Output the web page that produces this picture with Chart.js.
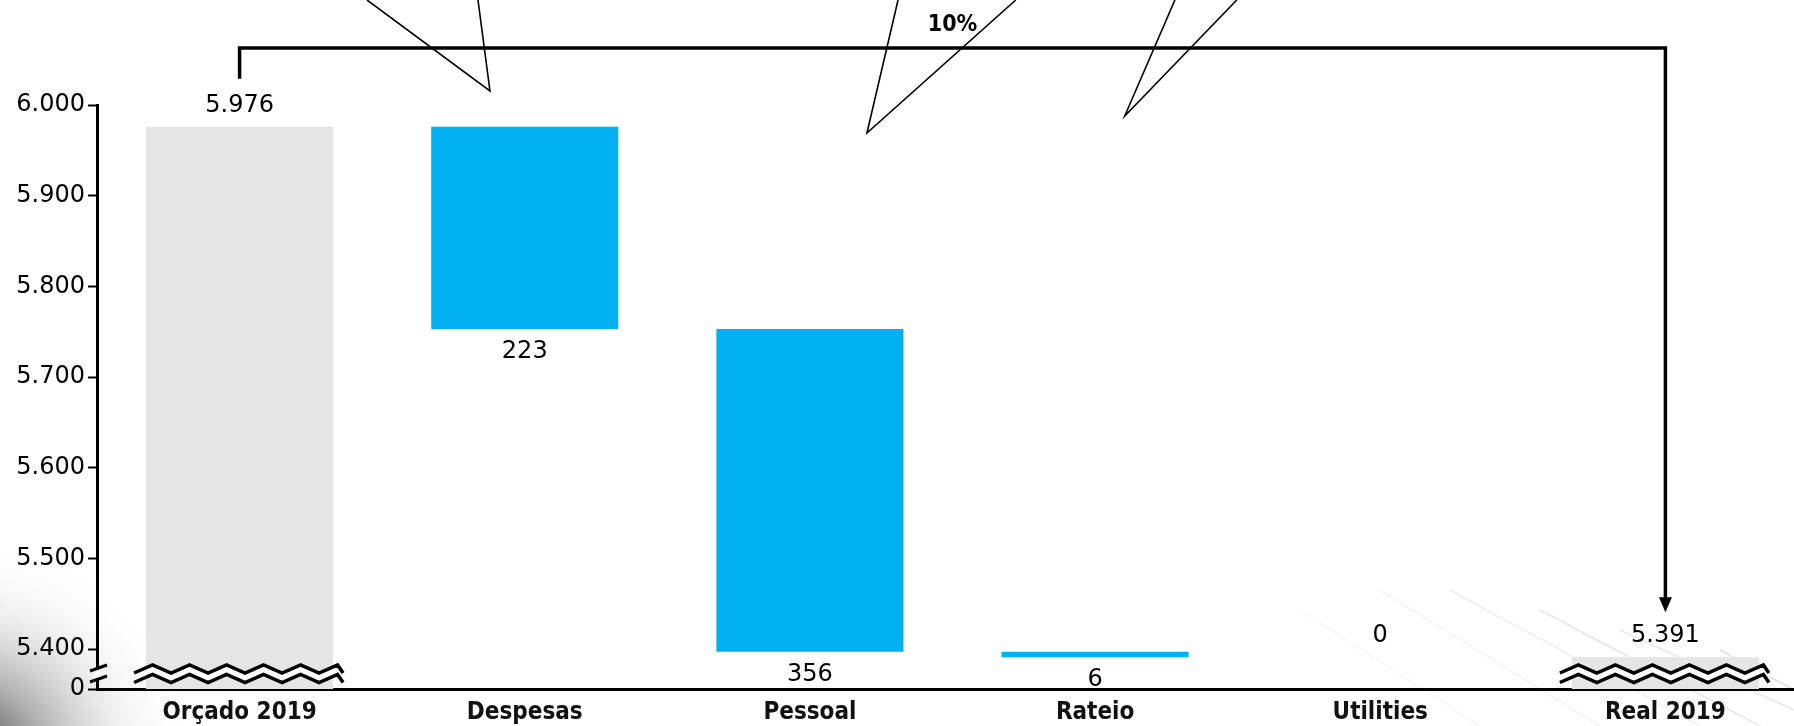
<!DOCTYPE html>
<html>
<head>
<meta charset="utf-8">
<script src="https://cdn.jsdelivr.net/npm/chart.js@4.4.1/dist/chart.umd.min.js"></script>
<style>
  html, body { margin: 0; padding: 0; background: #fff; overflow: hidden; }
  #wrap { width: 1808px; height: 726px; }
</style>
</head>
<body>
<div id="wrap"><canvas id="waterfall" width="1808" height="726"></canvas></div>
<script>
// data
const categories = ['Orçado 2019', 'Despesas', 'Pessoal', 'Rateio', 'Utilities', 'Real 2019'];
const budget = 5976;
const reductions = [223, 356, 6, 0];   // Despesas, Pessoal, Rateio, Utilities
const actual = 5391;
const yTickValues = [5400, 5500, 5600, 5700, 5800, 5900, 6000];
const axisFloor = 5356;                // bottom of the broken axis, shown as 0

// callout tails poking in from the top (x in category units, dy from plot top)
const calloutTails = [
  { from: [0.447, 0.836], tip: 0.878, dy: -14 },
  { from: [2.309, 2.722], tip: 2.200, dy: 28 },
  { from: [3.280, 3.497], tip: 3.104, dy: 11 }
];

const GREY = '#e5e5e5';
const BLUE = '#00b0f0';
const NUM_FONT = '24px "DejaVu Sans"';

const fmt = v => String(v).replace(/\B(?=(\d{3})+(?!\d))/g, '.');

// waterfall bars
let running = budget;
const barData = [budget];
const barLabels = [fmt(budget)];
reductions.forEach(r => {
  barData.push([running - r, running]);
  barLabels.push(fmt(r));
  running -= r;
});
barData.push(actual);
barLabels.push(fmt(actual));
const isTotal = i => i === 0 || i === categories.length - 1;

function zigzagPts(x0, x1, yMid, amp, period) {
  const pts = [];
  let up = false;
  for (let x = x0; x < x1 + period / 2; x += period / 2) {
    pts.push([Math.min(x, x1), up ? yMid - amp : yMid + amp]);
    up = !up;
  }
  return pts;
}

const backdrop = {
  id: 'backdrop',
  beforeDraw(chart) {
    const ctx = chart.ctx;
    ctx.save();
    ctx.fillStyle = '#fff';
    ctx.fillRect(0, 0, chart.width, chart.height);
    const g = ctx.createRadialGradient(-30, 760, 0, -30, 760, 230);
    g.addColorStop(0, 'rgba(40,40,40,0.9)');
    g.addColorStop(0.35, 'rgba(90,90,90,0.45)');
    g.addColorStop(0.7, 'rgba(180,180,180,0.15)');
    g.addColorStop(1, 'rgba(255,255,255,0)');
    ctx.fillStyle = g;
    ctx.fillRect(0, 480, 300, 246);
    // faint streaks bottom right
    ctx.lineWidth = 2;
    [[1380, 590, 1600, 726, 0.04], [1450, 590, 1700, 726, 0.05], [1540, 610, 1760, 726, 0.08],
     [1620, 630, 1794, 710, 0.07], [1300, 610, 1480, 726, 0.03], [1720, 650, 1794, 690, 0.1]]
      .forEach(([a, b, c, d, o]) => {
        ctx.strokeStyle = `rgba(0,0,0,${o})`;
        ctx.beginPath(); ctx.moveTo(a, b); ctx.lineTo(c, d); ctx.stroke();
      });
    ctx.restore();
  }
};

const barDecor = {
  id: 'barDecor',
  afterDatasetsDraw(chart) {
    const ctx = chart.ctx;
    const y = chart.scales.y;
    const meta = chart.getDatasetMeta(0);
    const mid = y.bottom - 15.5;
    ctx.save();
    meta.data.forEach((el, i) => {
      if (!isTotal(i)) return;
      const x0 = el.x - el.width / 2 - 12, x1 = el.x + el.width / 2 + 10;
      const top = zigzagPts(x0, x1, mid - 4.5, 4, 37);
      const bot = zigzagPts(x0, x1, mid + 5, 4, 37);
      ctx.fillStyle = '#fff';
      ctx.beginPath();
      top.forEach((p, k) => k ? ctx.lineTo(p[0], p[1]) : ctx.moveTo(p[0], p[1]));
      bot.slice().reverse().forEach(p => ctx.lineTo(p[0], p[1]));
      ctx.closePath();
      ctx.fill();
      ctx.strokeStyle = '#000';
      ctx.lineWidth = 3.5;
      [top, bot].forEach(line => {
        ctx.beginPath();
        line.forEach((p, k) => k ? ctx.lineTo(p[0], p[1]) : ctx.moveTo(p[0], p[1]));
        ctx.stroke();
      });
    });
    // value labels
    ctx.font = NUM_FONT;
    ctx.fillStyle = '#000';
    ctx.textAlign = 'center';
    ctx.textBaseline = 'middle';
    meta.data.forEach((el, i) => {
      const hi = Math.min(el.y, el.base), lo = Math.max(el.y, el.base);
      const above = isTotal(i) || reductions[i - 1] === 0;
      ctx.fillText(barLabels[i], el.x, above ? hi - 21 : lo + 23);
    });
    ctx.restore();
  }
};

const overlay = {
  id: 'overlay',
  afterDraw(chart) {
    const ctx = chart.ctx;
    const x = chart.scales.x, y = chart.scales.y;
    const area = chart.chartArea;
    const meta = chart.getDatasetMeta(0);
    ctx.save();

    // axis break
    const ax = area.left, mid = area.bottom - 15.5;
    ctx.fillStyle = '#fff';
    ctx.fillRect(ax - 3, mid - 4, 6, 9);
    ctx.strokeStyle = '#000';
    ctx.lineWidth = 3;
    [mid - 5.5, mid + 5.5].forEach(m => {
      ctx.beginPath(); ctx.moveTo(ax - 7, m + 3); ctx.lineTo(ax + 10, m - 3); ctx.stroke();
    });

    // bracket with arrow
    const xl = meta.data[0].x, xr = meta.data[meta.data.length - 1].x;
    const yTop = area.top - 57;
    const tipY = y.getPixelForValue(actual) - 45;
    ctx.lineWidth = 3.5;
    ctx.lineJoin = 'miter';
    ctx.beginPath();
    ctx.moveTo(xl, y.getPixelForValue(budget) - 48);
    ctx.lineTo(xl, yTop);
    ctx.lineTo(xr, yTop);
    ctx.lineTo(xr, tipY - 10);
    ctx.stroke();
    ctx.fillStyle = '#000';
    ctx.beginPath();
    ctx.moveTo(xr, tipY); ctx.lineTo(xr - 6.5, tipY - 15); ctx.lineTo(xr + 6.5, tipY - 15);
    ctx.closePath(); ctx.fill();

    const pct = Math.round((budget - actual) / budget * 100);
    ctx.font = 'bold 23px "DejaVu Sans Condensed", "DejaVu Sans"';
    ctx.textAlign = 'center';
    ctx.textBaseline = 'middle';
    ctx.fillText(pct + '%', (xl + xr) / 2, yTop - 23);

    // callout tails
    ctx.lineWidth = 1.6;
    calloutTails.forEach(t => {
      const tx = x.getPixelForValue(t.tip), ty = area.top + t.dy;
      ctx.beginPath();
      ctx.moveTo(x.getPixelForValue(t.from[0]), 0);
      ctx.lineTo(tx, ty);
      ctx.lineTo(x.getPixelForValue(t.from[1]), 0);
      ctx.stroke();
    });
    ctx.restore();
  }
};

const ctx = document.getElementById('waterfall').getContext('2d');
const chart = new Chart(ctx, {
  type: 'bar',
  data: {
    labels: categories,
    datasets: [{
      data: barData,
      backgroundColor: categories.map((c, i) => isTotal(i) ? GREY : BLUE),
      borderWidth: 0,
      barPercentage: 0.656,
      categoryPercentage: 1
    }]
  },
  options: {
    responsive: false,
    animation: false,
    layout: { padding: { top: 105, left: 0, right: 0, bottom: 0 } },
    plugins: { legend: { display: false }, tooltip: { enabled: false } },
    scales: {
      x: {
        grid: { display: false },
        border: { display: true, color: '#000', width: 3 },
        ticks: {
          color: '#111',
          font: { family: '"DejaVu Sans Condensed", "DejaVu Sans"', size: 24, weight: 'bold' },
          padding: 1
        },
        afterFit: s => { s.height = 37; }
      },
      y: {
        min: axisFloor,
        max: 6000,
        grid: { drawOnChartArea: false, drawTicks: true, tickLength: 9, tickWidth: 2, tickColor: '#000' },
        border: { display: true, color: '#000', width: 3 },
        ticks: {
          color: '#000',
          font: { family: 'DejaVu Sans', size: 24 },
          padding: 3,
          callback: v => v === axisFloor ? '0' : fmt(v)
        },
        afterBuildTicks: s => { s.ticks = [axisFloor, ...yTickValues].map(v => ({ value: v })); },
        afterFit: s => { s.width = 97; }
      }
    }
  },
  plugins: [backdrop, barDecor, overlay]
});
</script>
</body>
</html>
